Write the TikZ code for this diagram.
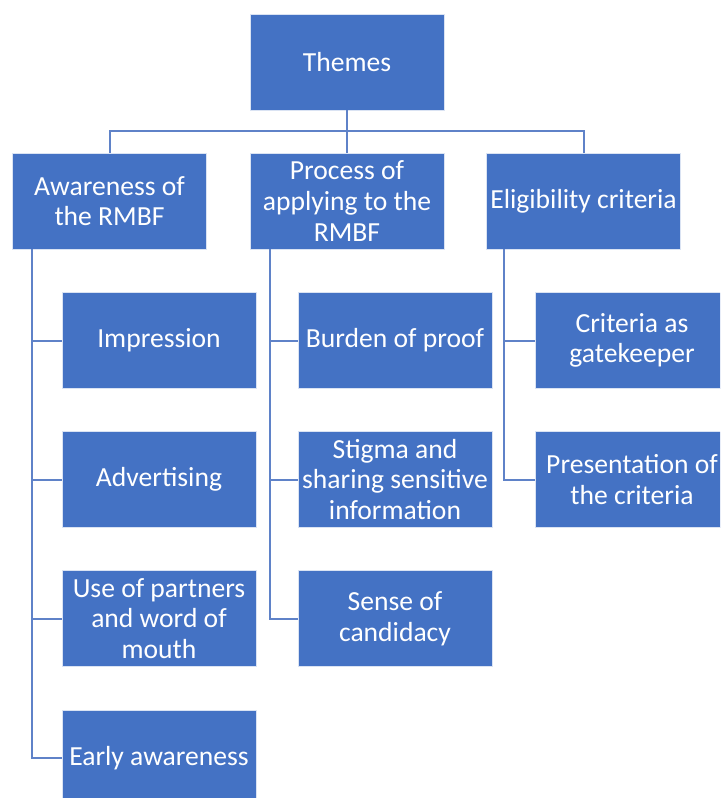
\documentclass[tikz,border=0pt]{standalone}
\usepackage{fontspec}
\setmainfont{Carlito}
\definecolor{boxblue}{RGB}{68,114,196}
\definecolor{lineblue}{RGB}{95,130,200}
\begin{document}
\begin{tikzpicture}[x=0.5pt,y=-0.5pt,
  box/.style={rectangle, fill=boxblue, draw=white!80!boxblue, line width=0.4pt,
    minimum width=97pt, minimum height=48pt, inner sep=1pt, align=center,
    text=white, font=\fontsize{13.8}{15.3}\selectfont},
  conn/.style={draw=lineblue, line width=1pt}]
\useasboundingbox (0,0) rectangle (720,798);
\clip (0,0) rectangle (720,798);
\fill[white] (0,0) rectangle (720,798);
\node[box] (T) at (347,62) {Themes};
\node[box] (A) at (109.5,201) {Awareness of\\the RMBF};
\node[box] (P) at (347,201) {Process of\\applying to the\\RMBF};
\node[box] (E) at (583.5,201) {Eligibility criteria};
\node[box] (A1) at (159,340.5) {Impression};
\node[box] (A2) at (159,479.5) {Advertising};
\node[box] (A3) at (159,618.5) {Use of partners\\and word of\\mouth};
\node[box] (A4) at (159,758) {Early awareness};
\node[box] (P1) at (395,340.5) {Burden of proof};
\node[box] (P2) at (395,479.5) {Stigma and\\sharing sensitive\\information};
\node[box] (P3) at (395,618.5) {Sense of\\candidacy};
\node[box] (E1) at (632,340.5) {Criteria as\\gatekeeper};
\node[box] (E2) at (632,479.5) {Presentation of\\the criteria};
\coordinate (bus) at (347,131);
\draw[conn] (T.south) -- (bus);
\draw[conn] (P.north) -- (bus);
\draw[conn] (A.north) |- (bus) -| (E.north);
\foreach \c in {A1,A2,A3,A4} \draw[conn] ([xshift=10pt]A.south west) |- (\c.west);
\foreach \c in {P1,P2,P3} \draw[conn] ([xshift=10pt]P.south west) |- (\c.west);
\foreach \c in {E1,E2} \draw[conn] ([xshift=9pt]E.south west) |- (\c.west);
\end{tikzpicture}
\end{document}
